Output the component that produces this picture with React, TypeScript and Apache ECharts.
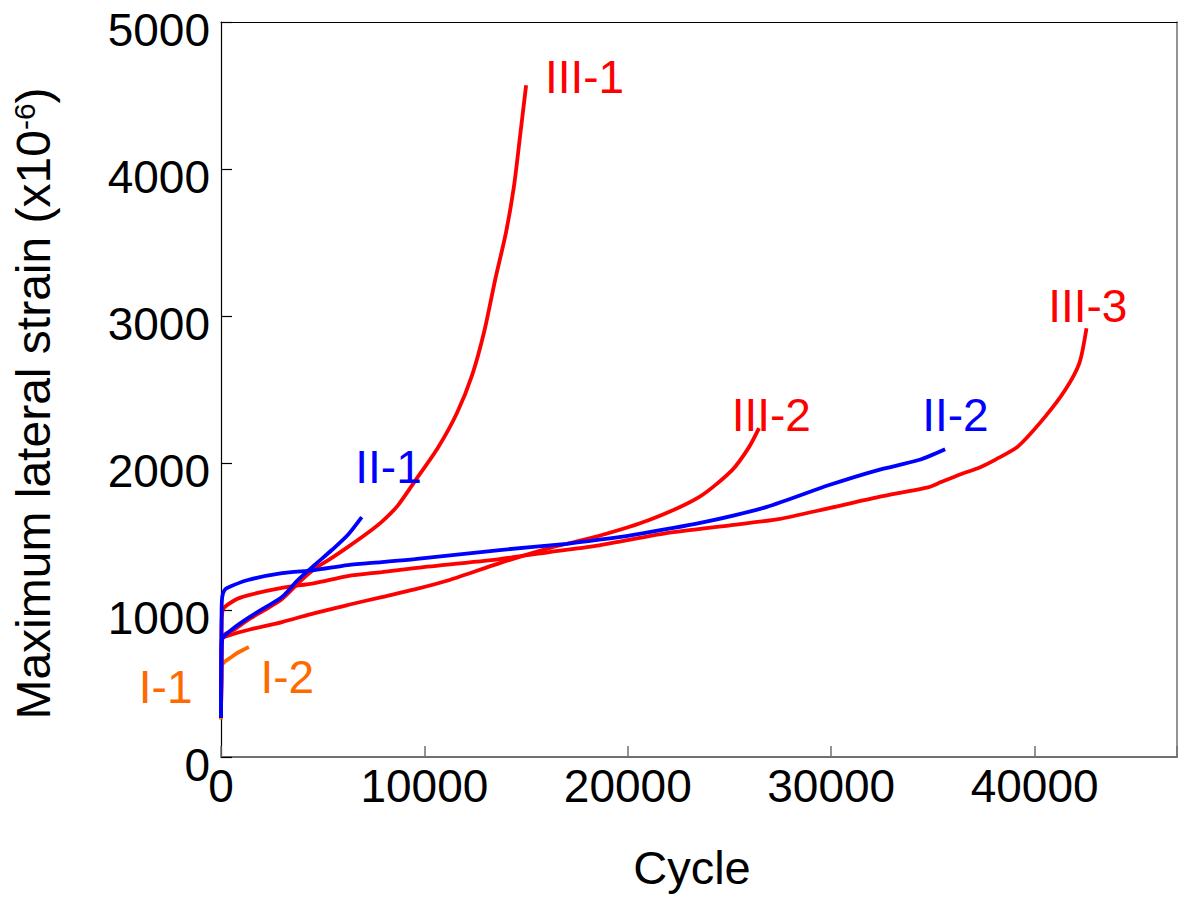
import React, { useEffect, useRef } from "react";
import * as echarts from "echarts";

const FONT = "'Liberation Sans', Arial, Helvetica, sans-serif";

const xTicks = [0, 10000, 20000, 30000, 40000];
const yTicks = [0, 1000, 2000, 3000, 4000, 5000];

const seriesNames = ["I-1", "I-2", "III-1", "III-2", "III-3", "II-1", "II-2"];
const seriesColors = ["#ff6a00", "#ff6a00", "#ff0000", "#ff0000", "#ff0000", "#0000ff", "#0000ff"];

const dataI1: number[][] = [[0, 255], [10, 420], [25, 560]];
const dataI2: number[][] = [
  [0, 265], [12, 480], [30, 620], [200, 650], [440, 673], [785, 707], [1080, 728], [1370, 748],
];
const dataIII1: number[][] = [
  [0, 270], [20, 600], [40, 790], [150, 830], [690, 870], [1325, 932], [2200, 1005], [3000, 1075],
  [3780, 1180], [4600, 1280], [5450, 1355], [6230, 1428], [7070, 1510], [7900, 1600], [8690, 1710],
  [9600, 1890], [10650, 2100], [11600, 2340], [12350, 2600], [12950, 2900], [13500, 3260],
  [14000, 3560], [14400, 3880], [14700, 4220], [15000, 4570],
];
const dataIII2: number[][] = [
  [0, 270], [20, 600], [40, 800], [200, 818], [1325, 864], [3000, 918], [4600, 979], [6230, 1034],
  [7900, 1088], [9520, 1140], [11240, 1204], [13700, 1319], [16150, 1421], [18600, 1505],
  [21050, 1612], [23500, 1768], [25130, 1952], [25960, 2108], [26450, 2237],
];
const dataIII3: number[][] = [
  [0, 270], [15, 600], [30, 880], [80, 1000], [690, 1068], [1325, 1100], [3000, 1150], [4600, 1183],
  [6230, 1231], [7900, 1258], [9520, 1285], [13700, 1346], [16150, 1394], [18600, 1440],
  [21900, 1523], [25100, 1578], [27400, 1618], [29900, 1693], [32300, 1768], [34800, 1836],
  [35400, 1870], [36400, 1925], [37300, 1970], [38100, 2025], [39200, 2115], [40500, 2312],
  [41500, 2496], [42200, 2680], [42550, 2917],
];
const dataII1: number[][] = [
  [0, 265], [20, 600], [40, 780], [120, 816], [690, 884], [1325, 945], [2200, 1020], [3000, 1088],
  [3780, 1204], [4600, 1306], [5450, 1408], [6230, 1510], [6920, 1632],
];
const dataII2: number[][] = [
  [0, 265], [15, 700], [30, 1000], [60, 1088], [150, 1130], [300, 1150], [1325, 1204], [3000, 1251],
  [4600, 1272], [6230, 1306], [7900, 1326], [9520, 1346], [13700, 1408], [17000, 1450],
  [18600, 1478], [20200, 1510], [23500, 1591], [26800, 1700], [29900, 1850], [32300, 1952],
  [34300, 2020], [35600, 2094],
];

const seriesData = [dataI1, dataI2, dataIII1, dataIII2, dataIII3, dataII1, dataII2];

// label anchors in data space: [x, y, side]
const labelAnchors: [number, number, string][] = [
  [0, 476, "left"],
  [1914, 544, "right"],
  [15900, 4626, "right"],
  [25080, 2327, "right"],
  [40640, 3068, "right"],
  [6577, 1973, "right"],
  [34450, 2327, "right"],
];

export default function App() {
  const ref = useRef<HTMLDivElement>(null);
  useEffect(() => {
    if (!ref.current) return;
    const chart = echarts.init(ref.current, undefined, { renderer: "svg" });
    const series = seriesNames.map((name, i) => ({
      name,
      type: "line",
      data: seriesData[i],
      showSymbol: false,
      symbol: "none",
      smooth: 0.25,
      lineStyle: { color: seriesColors[i], width: 3.8 },
      itemStyle: { color: seriesColors[i] },
      z: i < 2 ? 1 : i < 5 ? 2 : 3,
      markPoint: {
        symbol: "circle",
        symbolSize: 1,
        itemStyle: { color: "rgba(0,0,0,0)" },
        label: {
          show: true,
          position: labelAnchors[i][2],
          distance: labelAnchors[i][2] === "left" ? 28 : 0,
          formatter: name,
          color: seriesColors[i],
          fontSize: 46,
          fontFamily: FONT,
        },
        data: [{ coord: [labelAnchors[i][0], labelAnchors[i][1]] }],
      },
    }));
    chart.setOption({
      animation: false,
      backgroundColor: "#ffffff",
      grid: {
        left: 221,
        top: 22,
        right: 7,
        bottom: 143,
        containLabel: false,
        outerBoundsMode: "none",
      },
      xAxis: [
        {
          type: "value",
          position: "bottom",
          min: 0,
          max: 47000,
          interval: 10000,
          axisLine: { show: true, onZero: false, lineStyle: { color: "#707070", width: 2 } },
          axisTick: { show: true, inside: true, length: 11, lineStyle: { color: "#707070", width: 1.5 } },
          axisLabel: {
            fontSize: 46,
            lineHeight: 46,
            color: "#000",
            fontFamily: FONT,
            margin: 6,
            formatter: (v: number) => (xTicks.indexOf(v) >= 0 ? String(v) : ""),
          },
          splitLine: { show: false },
          name: "Cycle",
          nameLocation: "middle",
          nameGap: 87,
          nameTextStyle: {
            fontSize: 47,
            lineHeight: 47,
            color: "#000",
            fontFamily: FONT,
            padding: [0, 14, 0, 0],
          },
        },
        {
          type: "value",
          position: "top",
          min: 0,
          max: 47000,
          axisLine: { show: true, onZero: false, lineStyle: { color: "#000", width: 1 } },
          axisTick: { show: false },
          axisLabel: { show: false },
          splitLine: { show: false },
        },
      ],
      yAxis: [
        {
          type: "value",
          position: "left",
          min: 0,
          max: 5000,
          interval: 1000,
          axisLine: { show: true, onZero: false, lineStyle: { color: "#000", width: 1.2 } },
          axisTick: { show: true, inside: true, length: 11, lineStyle: { color: "#000", width: 1.2 } },
          axisLabel: {
            fontSize: 46,
            lineHeight: 16,
            verticalAlign: "top",
            color: "#000",
            fontFamily: FONT,
            margin: 11,
            formatter: (v: number) => (yTicks.indexOf(v) >= 0 ? String(v) : ""),
          },
          splitLine: { show: false },
          name: "{a|Maximum lateral strain (x10}{b|-6}{a|)}",
          nameLocation: "middle",
          nameGap: 164,
          nameTextStyle: {
            color: "#000",
            fontFamily: FONT,
            padding: [0, 28, 0, 0],
            rich: {
              a: { fontSize: 48, lineHeight: 48, fontFamily: FONT, color: "#000" },
              b: { fontSize: 30, lineHeight: 30, fontFamily: FONT, color: "#000", verticalAlign: "top" },
            },
          },
        },
        {
          type: "value",
          position: "right",
          min: 0,
          max: 5000,
          axisLine: { show: true, onZero: false, lineStyle: { color: "#707070", width: 1.5 } },
          axisTick: { show: false },
          axisLabel: { show: false },
          splitLine: { show: false },
        },
      ],
      series,
    });
    return () => chart.dispose();
  }, []);
  return (
    <div
      ref={ref}
      style={{ position: "fixed", left: 0, top: 0, width: 1184, height: 900, background: "#fff" }}
    />
  );
}
